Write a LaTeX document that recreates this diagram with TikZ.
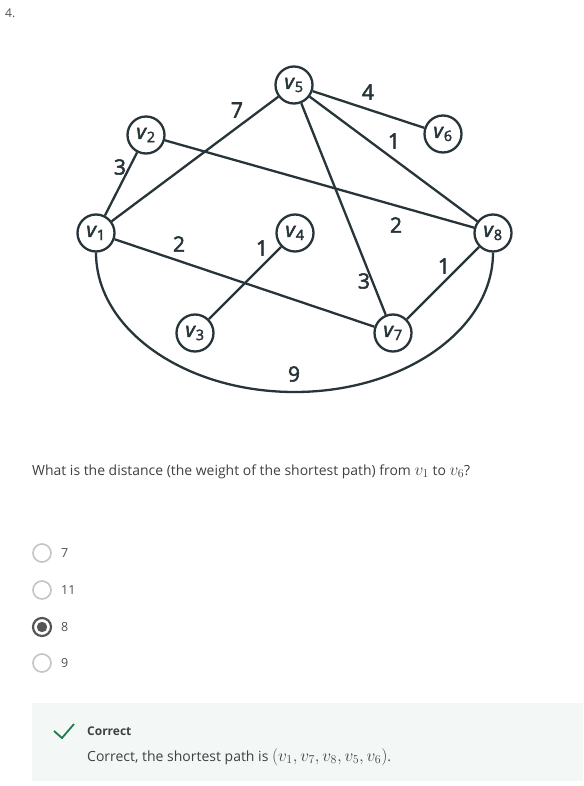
\documentclass[tikz,border=0pt]{standalone}
\usepackage{fontspec}
\setmainfont{Open Sans}
\newfontfamily\labfont[FakeBold=2.5]{Open Sans}
\newcommand{\bigmath}[1]{{\fontsize{16.8}{18}\selectfont$#1$}}
\begin{document}
\begin{tikzpicture}[x=1pt,y=-1pt,
  vtx/.style={circle,draw=edgec,line width=2.3pt,minimum size=37pt,inner sep=0pt,fill=white,text=edgec,font=\labfont\fontsize{20.5}{21}\selectfont},
  edge/.style={draw=edgec,line width=2.3pt},
  wlab/.style={text=edgec,font=\labfont\fontsize{21}{22}\selectfont,inner sep=0pt},
  radio/.style={circle,draw=radioc,line width=1.6pt,minimum size=18pt,inner sep=0pt},
  opt/.style={anchor=west,text=optc,font=\fontsize{12.5}{14}\selectfont,inner sep=0pt},
]
\definecolor{edgec}{HTML}{27353A}
\definecolor{txtc}{HTML}{404040}
\definecolor{optc}{HTML}{505050}
\definecolor{radioc}{HTML}{C4C4C4}
\definecolor{selc}{HTML}{555555}
\definecolor{boxc}{HTML}{F3F8F6}
\definecolor{okc}{HTML}{1F7A4A}
\useasboundingbox (0,0) rectangle (583,786);
\fill[white] (0,0) rectangle (583,786);

\node[anchor=north west,text=optc,font=\fontsize{12}{14}\selectfont,inner sep=0pt] (num) at (5,9) {4.};

% vertices
\node[vtx] (v1) at (96,233) {\textit{v}\textsubscript{1}};
\node[vtx] (v2) at (146,135) {\textit{v}\textsubscript{2}};
\node[vtx] (v3) at (195,333) {\textit{v}\textsubscript{3}};
\node[vtx] (v4) at (295,233) {\textit{v}\textsubscript{4}};
\node[vtx] (v5) at (294,85) {\textit{v}\textsubscript{5}};
\node[vtx] (v6) at (443,134) {\textit{v}\textsubscript{6}};
\node[vtx] (v7) at (393,333) {\textit{v}\textsubscript{7}};
\node[vtx] (v8) at (493,233) {\textit{v}\textsubscript{8}};

% edges
\draw[edge] (v1) -- (v2);
\draw[edge] (v1) -- (v5);
\draw[edge] (v5) -- (v6);
\draw[edge] (v5) -- (v8);
\draw[edge] (v5) -- (v7);
\draw[edge] (v2) -- (v8);
\draw[edge] (v1) -- (v7);
\draw[edge] (v4) -- (v3);
\draw[edge] (v7) -- (v8);
\coordinate (bot) at (294.5,392);
\draw[edge] (v1.south) .. controls (96,329.3) and (184.8,392) .. (bot)
  .. controls (404.2,392) and (493,329.3) .. (v8.south);

% weights
\node[wlab] (w15) at (237,110) {7};
\node[wlab] (w56) at (368,92) {4};
\node[wlab] (w58) at (394,141) {1};
\node[wlab] (w12) at (120,167) {3};
\node[wlab] (w28) at (396,225) {2};
\node[wlab] (w17) at (179,244) {2};
\node[wlab] (w34) at (262,248) {1};
\node[wlab] (w78) at (444,266) {1};
\node[wlab] (w57) at (364,281) {3};
\node[wlab] (w18) at (294,374) {9};

% question
\node[anchor=base west,text=txtc,font=\fontsize{13.95}{16}\selectfont,inner sep=0pt] (q) at (32,475)
  {What is the distance (the weight of the shortest path) from \bigmath{v_1} to \bigmath{v_6}?};

% options
\node[radio] (r1) at (42,553) {};
\node[radio] (r2) at (42,590) {};
\node[radio,draw=selc,line width=2.2pt] (r3) at (42,627) {};
\fill[selc] (r3.center) circle (5.2);
\node[radio] (r4) at (42,663) {};
\node[opt] (o1) at (61,553) {7};
\node[opt] (o2) at (61,590) {11};
\node[opt] (o3) at (61,627) {8};
\node[opt] (o4) at (61,663) {9};

% feedback
\fill[boxc] (32,703) rectangle (583,781);
\coordinate (c1) at (54,731);
\coordinate (c2) at (62,738);
\coordinate (c3) at (74,724);
\draw[okc,line width=1.8pt] (c1) -- (c2) -- (c3);
\node[anchor=west,text=txtc,font=\fontsize{12}{14}\selectfont\bfseries,inner sep=0pt] (ok) at (87,731) {Correct};
\node[anchor=base west,text=txtc,font=\fontsize{14}{16}\selectfont,inner sep=0pt] (expl) at (87,761)
  {Correct, the shortest path is \bigmath{\bigl(v_1,v_7,v_8,v_5,v_6\bigr)}.};
\end{tikzpicture}
\end{document}
